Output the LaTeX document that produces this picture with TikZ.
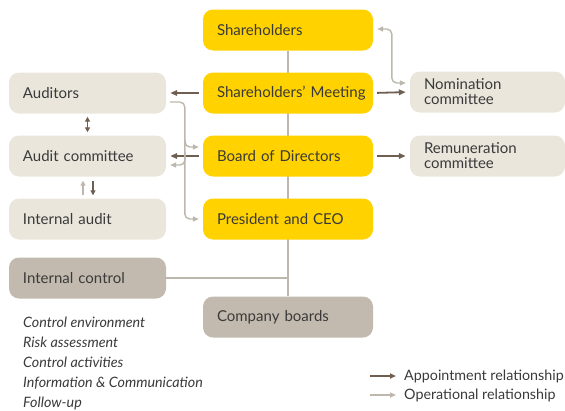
\documentclass[tikz,border=0pt]{standalone}
\usepackage{fontspec}
\setmainfont{Lato}
\usetikzlibrary{arrows.meta,backgrounds}
\definecolor{ylw}{HTML}{FFD200}
\definecolor{bge}{HTML}{EAE6DC}
\definecolor{tpe}{HTML}{C2BAAE}
\definecolor{apt}{HTML}{6F5F51}
\definecolor{opr}{HTML}{BDB7AD}
\definecolor{txt}{HTML}{3A3A3A}
\newcommand{\ind}{\hspace*{7pt}}
\begin{document}
\begin{tikzpicture}[x=1pt,y=-1pt,
  font=\fontsize{15}{16}\selectfont, text=txt,
  box/.style={rounded corners=10pt, minimum height=41pt, inner xsep=7pt, inner ysep=0pt, align=left},
  ybox/.style={box, fill=ylw, text width=156pt},
  lbox/.style={box, fill=bge, text width=143pt},
  rbox/.style={box, fill=bge, text width=141pt},
  tbox/.style={box, fill=tpe},
  aptarrow/.style={draw=apt, line width=1.8pt, -{Triangle[length=7pt,width=5.5pt]}},
  aptboth/.style={draw=apt, line width=1.8pt, {Triangle[length=5pt,width=5pt]}-{Triangle[length=5pt,width=5pt]}},
  oprarrow/.style={draw=opr, line width=1.4pt, rounded corners=5pt, -{Triangle[length=6pt,width=5pt]}},
  oprboth/.style={draw=opr, line width=1.4pt, rounded corners=5pt, {Triangle[length=6pt,width=5pt]}-{Triangle[length=6pt,width=5pt]}},
  trunk/.style={draw=opr, line width=2pt},
  lst/.style={anchor=base west, inner sep=0pt, font=\fontsize{14.3}{16}\selectfont\itshape},
  leg/.style={anchor=west, inner sep=0pt, font=\fontsize{14.3}{16}\selectfont}
]
\useasboundingbox (0,0) rectangle (565,410);
% main column
\node[ybox] (sh) at (288,30) {\ind Shareholders};
\node[ybox] (sm) at (288,93) {\ind Shareholders’ Meeting};
\node[ybox] (bd) at (288,156) {\ind Board of Directors};
\node[ybox] (ceo) at (288,219) {\ind President and CEO};
\node[tbox, text width=156pt] (cb) at (288,317) {\ind Company boards};
% left column
\node[lbox] (aud) at (87.5,93) {\ind Auditors};
\node[lbox] (ac) at (87.5,156) {\ind Audit committee};
\node[lbox] (ia) at (87.5,219) {\ind Internal audit};
\node[tbox, text width=143pt] (ic) at (87.5,278) {\ind Internal control};
% right column
\node[rbox, font=\fontsize{15}{15}\selectfont] (nc) at (487.5,92) {\ind Nomination\\\ind committee};
\node[rbox, font=\fontsize{15}{15}\selectfont] (rc) at (487.5,156) {\ind Remuneration\\\ind committee};
% trunk lines
\begin{scope}[on background layer]
\draw[trunk] (sh.south) -- (cb.north);
\draw[trunk] (ic.east) -- (ic.east -| cb.north);
\end{scope}
% appointment arrows
\draw[aptarrow, shorten <=4pt, shorten >=4pt] (sm.west) -- (aud.east);
\draw[aptarrow, shorten <=4pt, shorten >=4pt] (bd.west) -- (ac.east);
\draw[aptarrow, shorten <=4pt, shorten >=4pt] (sm.east) -- (nc.west);
\draw[aptarrow, shorten <=4pt, shorten >=4pt] (bd.east) -- (rc.west);
\draw[aptboth] ([yshift=-3pt]aud.south) -- ([yshift=3pt]ac.north);
\draw[aptarrow, -{Triangle[length=5pt,width=5pt]}] ([xshift=5.5pt,yshift=-4pt]ac.south) -- ([xshift=5.5pt,yshift=3pt]ia.north);
% operational arrows
\coordinate (bus) at (185,0);
\draw[oprarrow] ([xshift=4pt,yshift=-9pt]aud.east) -| ([xshift=-18pt]ceo.west) -- ([xshift=-4pt]ceo.west);
\draw[oprarrow] ([yshift=16pt]bd.west -| bus) |- ([xshift=-4pt,yshift=9pt]bd.west);
\draw[oprarrow] ([yshift=4pt]ac.east -| bus) |- ([xshift=4pt,yshift=-9pt]ac.east);
\draw[oprarrow, -{Triangle[length=5pt,width=5pt]}] ([xshift=-4.5pt,yshift=3pt]ia.north) -- ([xshift=-4.5pt,yshift=-4pt]ac.south);
\draw[oprboth] ([xshift=4pt,yshift=1pt]sh.east) -| ([xshift=-18pt]nc.west |- 0,83) -- ([xshift=-4pt]nc.west |- 0,83);
% control list
\node[lst] (l1) at (23,327) {Control environment};
\node[lst] (l2) at (23,347) {Risk assessment};
\node[lst] (l3) at (23,367) {Control activities};
\node[lst] (l4) at (23,387) {Information \& Communication};
\node[lst] (l5) at (23,407) {Follow-up};
% legend
\coordinate (la1) at (370,376);
\coordinate (la2) at (396,376);
\coordinate (lb1) at (370,395);
\coordinate (lb2) at (396,395);
\draw[aptarrow, -{Triangle[length=6pt,width=5pt]}] (la1) -- (la2);
\draw[oprarrow] (lb1) -- (lb2);
\node[leg] (lt1) at (404,376) {Appointment relationship};
\node[leg] (lt2) at (404,395) {Operational relationship};
\end{tikzpicture}
\end{document}
